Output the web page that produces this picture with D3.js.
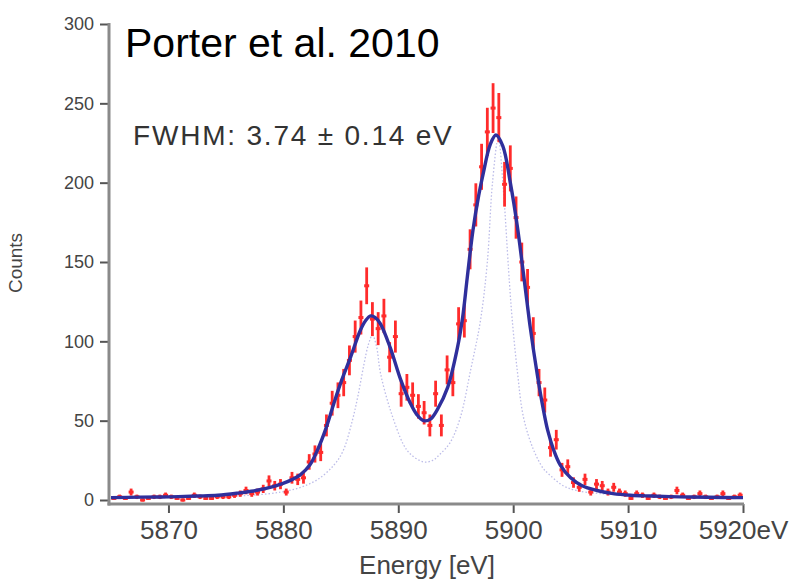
<!DOCTYPE html>
<html>
<head>
<meta charset="utf-8">
<script src="https://cdn.jsdelivr.net/npm/d3@7"></script>
<style>
  html, body { margin: 0; padding: 0; background: #fff; }
  svg { display: block; }
  text { font-family: "Liberation Sans", Arial, Helvetica, sans-serif; }
</style>
</head>
<body>
<svg id="chart" width="797" height="581"></svg>
<script>
// ---------------- data ----------------
const xTicks = [5870, 5880, 5890, 5900, 5910, 5920];
const xTickLabels = ["5870", "5880", "5890", "5900", "5910", "5920eV"];
const yTicks = [0, 50, 100, 150, 200, 250, 300];
const yTickLabels = ["0", "50", "100", "150", "200", "250", "300"];

// measured spectrum (bin centres, eV)
const energy = [
  5865.25,5865.75,5866.25,5866.75,5867.25,5867.75,5868.25,5868.75,5869.25,5869.75,
  5870.25,5870.75,5871.25,5871.75,5872.25,5872.75,5873.25,5873.75,5874.25,5874.75,
  5875.25,5875.75,5876.25,5876.75,5877.25,5877.75,5878.25,5878.75,5879.25,5879.75,
  5880.25,5880.75,5881.25,5881.75,5882.25,5882.75,5883.25,5883.75,5884.25,5884.75,
  5885.25,5885.75,5886.25,5886.75,5887.25,5887.75,5888.25,5888.75,5889.25,5889.75,
  5890.25,5890.75,5891.25,5891.75,5892.25,5892.75,5893.25,5893.75,5894.25,5894.75,
  5895.25,5895.75,5896.25,5896.75,5897.25,5897.75,5898.25,5898.75,5899.25,5899.75,
  5900.25,5900.75,5901.25,5901.75,5902.25,5902.75,5903.25,5903.75,5904.25,5904.75,
  5905.25,5905.75,5906.25,5906.75,5907.25,5907.75,5908.25,5908.75,5909.25,5909.75,
  5910.25,5910.75,5911.25,5911.75,5912.25,5912.75,5913.25,5913.75,5914.25,5914.75,
  5915.25,5915.75,5916.25,5916.75,5917.25,5917.75,5918.25,5918.75,5919.25,5919.75
];
const counts = [
  1,2,1,5,2,0,1,2,2,3,
  2,1,0,1,3,2,1,1,2,2,
  2,3,4,6,4,5,7,12,9,10,
  5,14,13,14,24,29,30,47,61,66,
  74,88,103,115,135,114,108,116,90,103,
  67,71,66,59,55,47,67,47,82,74,
  111,113,158,186,210,232,247,241,199,209,
  178,150,134,105,74,63,33,38,19,21,
  11,8,13,5,10,9,5,8,5,4,
  1,4,3,1,3,2,1,2,6,3,
  1,2,4,2,1,2,4,1,2,3
];
const errors = [
  1,1.4,1,2.2,1.4,1,1,1.4,1.4,1.7,
  1.4,1,1,1,1.7,1.4,1,1,1.4,1.4,
  1.4,1.7,2,2.4,2,2.2,2.6,3.5,3,3.2,
  2.2,3.7,3.6,3.7,4.9,5.4,5.5,6.9,7.8,8.1,
  8.6,9.4,10.1,10.7,11.6,10.7,10.4,10.8,9.5,10.1,
  8.2,8.4,8.1,7.7,7.4,6.9,8.2,6.9,9.1,8.6,
  10.5,10.6,12.6,13.6,14.5,15.2,15.7,15.5,14.1,14.5,
  13.3,12.2,11.6,10.2,8.6,7.9,5.7,6.2,4.4,4.6,
  3.3,2.8,3.6,2.2,3.2,3,2.2,2.8,2.2,2,
  1,2,1.7,1,1.7,1.4,1,1.4,2.4,1.7,
  1,1.4,2,1.4,1,1.4,2,1,1.4,1.7
];

// fitted line
const fitEnergy = [
  5865.0,5867.5,5870.0,5872.5,5874.3,5876.0,5877.2,5878.5,5879.8,5880.8,
  5881.5,5882.3,5883.0,5883.7,5884.4,5885.1,5885.85,5886.7,5887.15,5887.6,
  5888.0,5888.45,5889.3,5890.2,5891.05,5891.6,5892.2,5892.8,5893.4,5894.3,
  5895.15,5895.6,5896.0,5896.5,5897.0,5897.4,5898.0,5898.5,5899.1,5899.75,
  5900.35,5900.8,5901.2,5901.5,5902.1,5902.6,5903.0,5903.5,5904.1,5905.0,
  5906.0,5907.3,5908.7,5910.2,5912.0,5914.5,5917.0,5920.0
];
const fitCounts = [
  1.5,1.8,2,2.5,3,4.3,5.5,7.3,10,13,
  16,22,32,45,61,76,90,107,113,116,
  115,111,96,76,61,54,50,51,57,71,
  96,115,140,170,192,206,224,230,223,200,
  173,148,125,108,79,58,44,32,22,14,
  9,6,4,3,2.5,2,1.7,1.5
];

// intrinsic line shape (light dotted curve)
const lineEnergy = [
  5865.0,5870.0,5875.0,5877.2,5879.8,5881.5,5883.0,5884.4,5885.2,5886.0,
  5886.5,5887.0,5887.4,5887.75,5888.1,5888.45,5889.3,5890.45,5891.05,5892.2,
  5893.0,5893.65,5894.5,5895.4,5896.3,5897.15,5897.75,5898.2,5898.7,5899.15,
  5899.6,5899.9,5900.35,5900.9,5901.75,5902.6,5903.0,5904.35,5905.5,5907.6,
  5911.9,5920.0
];
const lineCounts = [
  1,1.5,2.5,3,5,8,13,22,31,50,
  66,85,98,104,97,80,57,35,29,24,
  25,29,36,52,82,113,150,200,228,195,
  145,115,82,52,32,20,17,9,6,4,
  2.5,1.5
];

// ---------------- drawing ----------------
const svg = d3.select("#chart");
svg.append("rect").attr("width", 797).attr("height", 581).attr("fill", "#fff");

const x = d3.scaleLinear().domain([5865, 5920]).range([111, 743]);
const y = d3.scaleLinear().domain([0, 300]).range([500, 24]);

// intrinsic (dotted) line
const lineGen = d3.line().x(d => x(d[0])).y(d => y(d[1])).curve(d3.curveCatmullRom.alpha(0.5));
svg.append("path")
  .datum(lineEnergy.map((e, i) => [e, lineCounts[i]]))
  .attr("d", lineGen)
  .attr("fill", "none")
  .attr("stroke", "#bcbce8")
  .attr("stroke-width", 1.3)
  .attr("stroke-dasharray", "1.5,2");

// data error bars + markers
const pts = energy.map((e, i) => ({ e, c: counts[i], s: errors[i] }));
const g = svg.append("g");
g.selectAll("line.err").data(pts).enter().append("line")
  .attr("class", "err")
  .attr("x1", d => x(d.e)).attr("x2", d => x(d.e))
  .attr("y1", d => y(d.c + d.s)).attr("y2", d => y(Math.max(d.c - d.s, -1.5)))
  .attr("stroke", "#ff2b2b").attr("stroke-width", 2.8);
g.selectAll("rect.mk").data(pts).enter().append("rect")
  .attr("class", "mk")
  .attr("x", d => x(d.e) - 2.5).attr("y", d => y(d.c) - 1.5)
  .attr("width", 5).attr("height", 3)
  .attr("fill", "#ff2b2b");

// fit line
svg.append("path")
  .datum(fitEnergy.map((e, i) => [e, fitCounts[i]]))
  .attr("d", lineGen)
  .attr("fill", "none")
  .attr("stroke", "#2f2f9c")
  .attr("stroke-width", 3.4)
  .attr("stroke-linejoin", "round");

// axes
const yAxis = d3.axisLeft(y).tickValues(yTicks).tickFormat((d, i) => yTickLabels[i]).tickSize(9).tickSizeOuter(0).tickPadding(6);
const gy = svg.append("g").attr("transform", "translate(109,0)").call(yAxis);
gy.select(".domain").remove();
gy.selectAll(".tick line").attr("stroke", "#555").attr("stroke-width", 2);
gy.selectAll(".tick text").attr("fill", "#444").attr("font-size", 18).attr("font-family", "Liberation Sans, Arial, sans-serif");

const xAxis = d3.axisBottom(x).tickValues(xTicks).tickFormat((d, i) => xTickLabels[i]).tickSize(9).tickSizeOuter(0).tickPadding(8);
const gx = svg.append("g").attr("transform", "translate(0,504)").call(xAxis);
gx.select(".domain").remove();
gx.selectAll(".tick line").attr("stroke", "#555").attr("stroke-width", 2);
gx.selectAll(".tick text").attr("fill", "#444").attr("font-size", 26).attr("font-family", "Liberation Sans, Arial, sans-serif");

// axis lines
svg.append("line").attr("x1", 109).attr("x2", 109).attr("y1", y(300) - 1).attr("y2", 505.5)
  .attr("stroke", "#8a8a8a").attr("stroke-width", 3);
svg.append("line").attr("x1", 107.5).attr("x2", x(5920) + 1).attr("y1", 504).attr("y2", 504)
  .attr("stroke", "#8a8a8a").attr("stroke-width", 3);

// axis titles
svg.append("text").attr("x", 427).attr("y", 574).attr("text-anchor", "middle")
  .attr("font-size", 26).attr("fill", "#444").text("Energy [eV]");
svg.append("text").attr("transform", "translate(22,263) rotate(-90)").attr("text-anchor", "middle")
  .attr("font-size", 19).attr("fill", "#444").text("Counts");

// annotations
svg.append("text").attr("x", 125).attr("y", 57).attr("font-size", 41).attr("fill", "#000")
  .text("Porter et al. 2010");
svg.append("text").attr("x", 133).attr("y", 145).attr("font-size", 28).attr("letter-spacing", 1.8).attr("fill", "#333")
  .text("FWHM: 3.74 ± 0.14 eV");
</script>
</body>
</html>
